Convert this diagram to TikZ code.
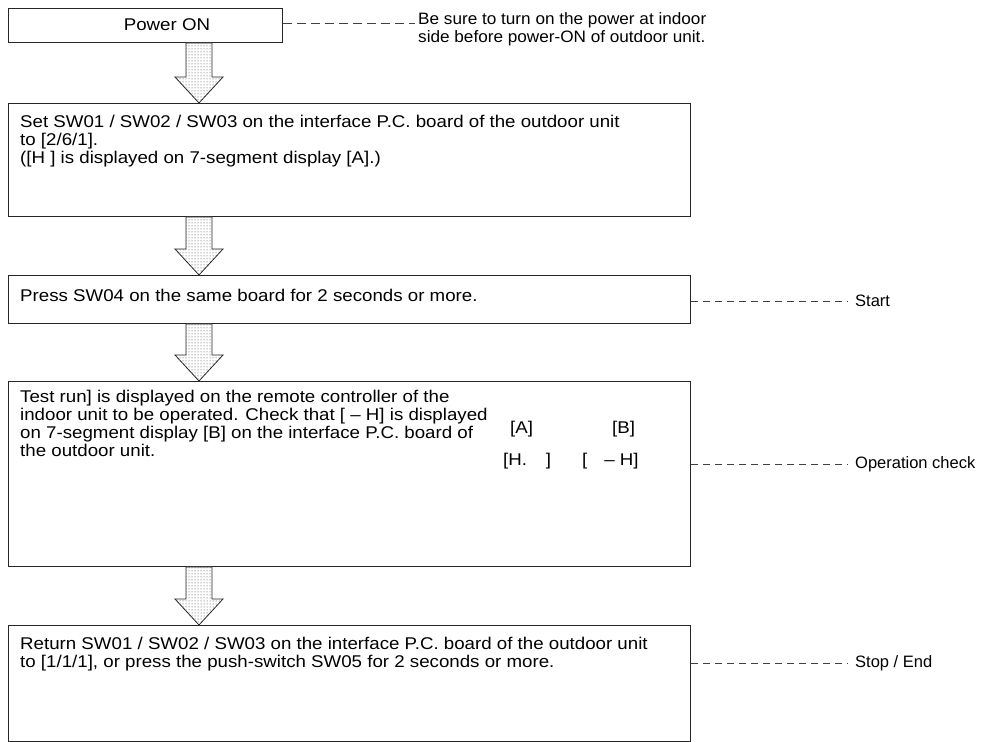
\documentclass[tikz,border=0pt]{standalone}
\usepackage{fontspec}
\setmainfont{Liberation Sans}
\newfontfamily\boxfont{Liberation Sans}[FakeStretch=1.1,Ligatures=TeX]
\newfontfamily\notefont{Liberation Sans}[FakeStretch=1.04,Ligatures=TeX]
\usetikzlibrary{calc,patterns}
\newcommand{\blockarr}[2]{%
  \path (#1.south -| ax) coordinate (arT) (#2.north -| ax) coordinate (arB);
  \path[fill=white] ($(arT)+(-13,0)$) -- ($(arB)+(-13,-26)$) -- ($(arB)+(-24,-26)$) -- (arB) -- ($(arB)+(24,-26)$) -- ($(arB)+(13,-26)$) -- ($(arT)+(13,0)$) -- cycle;
  \draw[blockarrow] ($(arT)+(-13,0)$) -- ($(arB)+(-13,-26)$) -- ($(arB)+(-24,-26)$) -- (arB) -- ($(arB)+(24,-26)$) -- ($(arB)+(13,-26)$) -- ($(arT)+(13,0)$) -- cycle;
}
\begin{document}
\begin{tikzpicture}[x=1pt,y=-1pt,
  box/.style={draw=black!85, line width=0.9pt, rectangle, anchor=north west, inner sep=0pt},
  txt/.style={anchor=north west, inner sep=0pt, align=left, font=\boxfont\fontsize{17}{18}\selectfont},
  seg/.style={anchor=base west, inner sep=0pt, font=\boxfont\fontsize{17}{18}\selectfont},
  lbl/.style={anchor=west, inner xsep=8pt, inner ysep=0pt, font=\fontsize{16.5}{18}\selectfont},
  callout/.style={draw=black!75, line width=0.7pt, dash pattern=on 7pt off 5pt},
  blockarrow/.style={draw=black!85, line width=0.8pt, pattern=dots, pattern color=black!75}]
\useasboundingbox (0,0) rectangle (994,742);
\coordinate (ax) at (199,0);
\coordinate (lx) at (847,0);
% boxes
\node[box, minimum width=274pt, minimum height=34pt] (b1) at (8,8) {};
\node[box, minimum width=682pt, minimum height=113pt] (b2) at (8,103) {};
\node[box, minimum width=682pt, minimum height=48pt] (b3) at (8,275) {};
\node[box, minimum width=682pt, minimum height=185pt] (b4) at (8,381) {};
\node[box, minimum width=682pt, minimum height=116pt] (b5) at (8,625) {};
% texts
\node[anchor=center, inner sep=0pt, font=\boxfont\fontsize{17}{18}\selectfont] (t1) at (167,25) {Power ON};
\node[txt] (t2) at (20,115) {\strut Set SW01 / SW02 / SW03 on the interface P.C. board of the outdoor unit\\to [2/6/1].\\([H ] is displayed on 7-segment display [A].)};
\node[txt] (t3) at (20,289) {\strut Press SW04 on the same board for 2 seconds or more.};
\node[txt] (t4) at (20,390) {\strut Test run] is displayed on the remote controller of the\\indoor unit to be operated. Check that [ – H] is displayed\\on 7-segment display [B] on the interface P.C. board of\\the outdoor unit.};
\node[seg] (dA) at (510,433) {[A]};
\node[seg] (dB) at (612,433) {[B]};
\node[seg] (dH1) at (503,465) {[H.\hspace{1.1em}]};
\node[seg] (dH2) at (582,465) {[\hspace{1.0em}– H]};
\node[txt] (t5) at (20,637) {\strut Return SW01 / SW02 / SW03 on the interface P.C. board of the outdoor unit\\to [1/1/1], or press the push-switch SW05 for 2 seconds or more.};
\node[txt, font=\notefont\fontsize{16.5}{18}\selectfont] (c1) at (418,12) {\strut Be sure to turn on the power at indoor\\side before power-ON of outdoor unit.};
% arrows
\blockarr{b1}{b2}
\blockarr{b2}{b3}
\blockarr{b3}{b4}
\blockarr{b4}{b5}
% callouts
\coordinate (p1) at ($(b1.north east)+(0,15)$);
\coordinate (q1) at (p1 -| c1.west);
\draw[callout, dash pattern=on 9pt off 5pt] (p1) -- ($(q1)+(-3,0)$);
\coordinate (p3) at ($(b3.north east)+(0,26)$);
\node[lbl] (l3) at (p3 -| lx) {Start};
\draw[callout] (p3) -- (l3.west);
\coordinate (p4) at ($(b4.north east)+(0,83)$);
\node[lbl] (l4) at (p4 -| lx) {Operation check};
\draw[callout] (p4) -- (l4.west);
\coordinate (p5) at ($(b5.north east)+(0,38)$);
\node[lbl] (l5) at (p5 -| lx) {Stop / End};
\draw[callout] (p5) -- (l5.west);
\end{tikzpicture}
\end{document}
